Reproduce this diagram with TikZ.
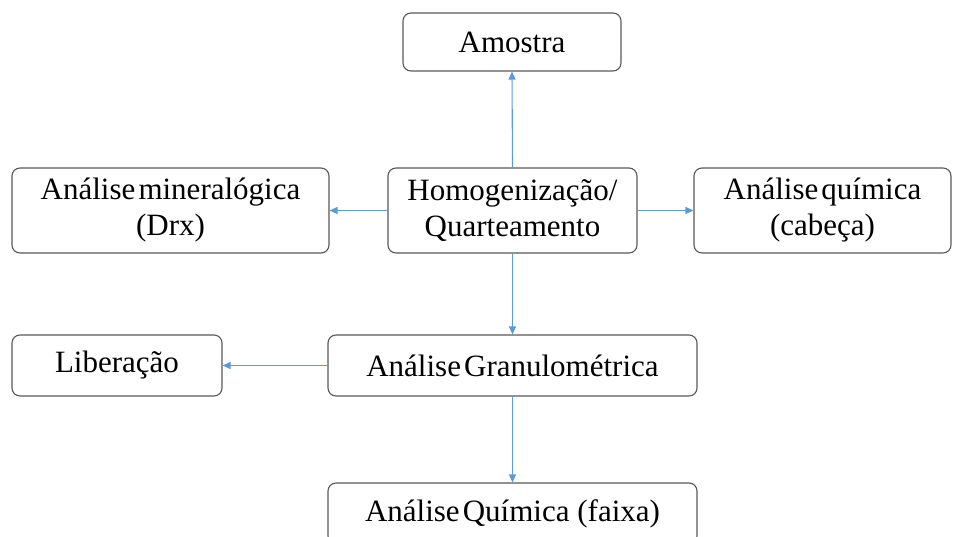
\documentclass[tikz,border=0pt]{standalone}
\usepackage{fontspec}
\setmainfont{Liberation Serif}
\usetikzlibrary{arrows.meta}
\definecolor{boxline}{HTML}{595959}
\definecolor{arrowblue}{HTML}{5B9BD5}
\tikzset{
  stepbox/.style={draw=boxline, line width=1.1pt, rounded corners=8pt, fill=white,
    align=center, inner sep=0pt, font=\fontsize{31}{36}\selectfont},
  conn/.style={draw=arrowblue, line width=1.1pt, -{Triangle[length=8pt,width=7pt]}}
}
\newcommand{\ws}{\hspace{0.1em}}
\begin{document}
\begin{tikzpicture}[x=1pt,y=-1pt]
\useasboundingbox (0,0) rectangle (954,536);
\clip (0,0) rectangle (954,536);
\node[stepbox, minimum width=218pt, minimum height=58pt] (amostra) at (512,42) {Amostra};
\node[stepbox, minimum width=317pt, minimum height=85pt] (miner) at (170.5,210.5) {Análise\ws mineralógica\\(Drx)};
\node[stepbox, minimum width=249pt, minimum height=85pt] (homog) at (512.5,210.5) {Homogenização/\\Quarteamento};
\node[stepbox, minimum width=257pt, minimum height=85pt] (cabeca) at (822.5,210.5) {Análise\ws química\\(cabeça)};
\node[stepbox, minimum width=210pt, minimum height=61pt] (liber) at (117,365.5) {Liberação};
\node[stepbox, minimum width=369pt, minimum height=61pt] (granulo) at (512.5,365.5) {Análise\ws Granulométrica};
\node[stepbox, minimum width=369pt, minimum height=61pt] (faixa) at (512.5,513.5) {Análise\ws Química (faixa)};
\draw[conn] (homog.north) -- (amostra.south);
\draw[conn] (homog.west) -- (miner.east);
\draw[conn] (homog.east) -- (cabeca.west);
\draw[conn] (homog.south) -- (granulo.north);
\draw[conn] (granulo.west) -- (liber.east);
\draw[conn] (granulo.south) -- (faixa.north);
\end{tikzpicture}
\end{document}
